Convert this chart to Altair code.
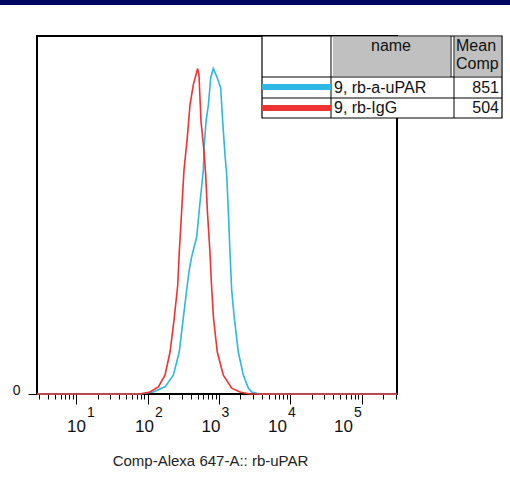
import altair as alt
import pandas as pd

FONT = "Liberation Sans"

# ---------------- data ----------------
series_names = ["9, rb-a-uPAR", "9, rb-IgG"]
series_means = ["851", "504"]
series_colors = ["#2db7e4", "#ee3333"]

red_x = [2.81, 78, 108, 141, 175, 206, 236, 264, 277, 300, 323, 359, 392, 436, 503,
         524, 560, 617, 651, 686, 748, 785, 837, 946, 1149, 1506, 1968, 2722, 312700]
red_y = [0, 0, 0.6, 2.2, 5.8, 12.9, 23.4, 33.5, 43.3, 56.5, 68.8, 78.7, 88.8, 95.0, 100,
         98.0, 83.7, 74.5, 67.3, 56.5, 43.3, 33.5, 23.4, 12.9, 5.8, 1.8, 0.6, 0, 0]

cyan_x = [2.81, 78, 120, 175, 229, 277, 316, 359, 383, 414, 487, 541, 603, 617, 658,
          709, 765, 832, 946, 1056, 1127, 1214, 1282, 1350, 1426, 1506, 1638, 1865,
          2193, 2576, 2871, 3758, 312700]
cyan_y = [0, 0, 0.6, 2.2, 5.8, 12.9, 23.4, 33.5, 38.1, 42.2, 48.3, 58.7, 68.8, 75.6, 83.7,
          88.8, 97.1, 100, 97.1, 94.0, 83.7, 73.4, 67.3, 56.5, 43.3, 32.0, 23.4, 12.9,
          5.8, 1.8, 0.6, 0, 0]

x_domain = [2.81, 312700]
y_domain = [0, 110]
major_ticks = [10, 100, 1000, 10000, 100000]
# where each decade label sits on the axis in the reference (left edge of "10")
label_at = [7.4, 66.4, 569, 4864, 40950]
major_base = ["10", "10", "10", "10", "10"]
major_exps = ["1", "2", "3", "4", "5"]
minor_ticks = [3, 4, 5, 6, 7, 8, 9,
               20, 30, 40, 50, 60, 70, 80, 90,
               200, 300, 400, 500, 600, 700, 800, 900,
               2000, 3000, 4000, 5000, 6000, 7000, 8000, 9000,
               20000, 30000, 40000, 50000, 60000, 70000, 80000, 90000,
               200000, 300000]
y_ticks = [0]
x_title = "Comp-Alexa 647-A:: rb-uPAR"

# ---------------- build ----------------
W, H = 360, 358

curves = pd.concat([
    pd.DataFrame({"x": cyan_x, "y": cyan_y, "series": series_names[0]}),
    pd.DataFrame({"x": red_x, "y": red_y, "series": series_names[1]}),
])

xscale = alt.Scale(type="log", domain=x_domain, nice=False)
yscale = alt.Scale(domain=y_domain, nice=False, zero=True)

major_test = "abs(log(datum.value)/LN10 - round(log(datum.value)/LN10)) < 0.01"

x_axis = alt.Axis(values=minor_ticks + major_ticks, labels=False, grid=False,
                  domain=False, tickColor="black", tickWidth=1,
                  tickSize={"condition": {"test": major_test, "value": 10}, "value": 5},
                  title=x_title, titleFont=FONT, titleFontSize=15,
                  titleFontWeight="normal", titleColor="#222",
                  titleX=173, titleY=71, titleBaseline="alphabetic")
x_enc = alt.X("x:Q", scale=xscale, axis=x_axis)

lines = alt.Chart(curves).mark_line(strokeWidth=1.6).encode(
    x=x_enc,
    y=alt.Y("y:Q", scale=yscale,
            axis=alt.Axis(values=y_ticks, title=None, grid=False, domain=False,
                          tickSize=9, tickColor="black", labelPadding=8,
                          labelFont=FONT, labelFontSize=14, labelColor="#111",
                          labelBaseline="alphabetic")),
    color=alt.Color("series:N", scale=alt.Scale(domain=series_names, range=series_colors),
                    legend=None),
)

labels_df = pd.DataFrame({"x": label_at, "base": major_base, "exp": major_exps})
tens = alt.Chart(labels_df).mark_text(align="left", baseline="alphabetic",
                                      font=FONT, fontSize=17, color="#111").encode(
    x=x_enc, y=alt.value(396), text="base:N")
exps = alt.Chart(labels_df).mark_text(align="left", baseline="alphabetic", dx=20,
                                      font=FONT, fontSize=14, color="#111").encode(
    x=x_enc, y=alt.value(381), text="exp:N")

one = pd.DataFrame({"a": [0]})


def rect(x, x2, y, y2, fill, stroke=None, sw=0):
    kw = dict(fill=fill, strokeWidth=sw)
    if stroke:
        kw["stroke"] = stroke
    return alt.Chart(one).mark_rect(**kw).encode(
        x=alt.value(x), x2=alt.value(x2), y=alt.value(y), y2=alt.value(y2))


def vline(x, y, y2, color="black", sw=1):
    return alt.Chart(one).mark_rule(color=color, strokeWidth=sw).encode(
        x=alt.value(x), y=alt.value(y), y2=alt.value(y2))


def hline(x, x2, y, color="black", sw=1):
    return alt.Chart(one).mark_rule(color=color, strokeWidth=sw).encode(
        x=alt.value(x), x2=alt.value(x2), y=alt.value(y))


def label(txt, x, y, align="left", size=16):
    return alt.Chart(one).mark_text(align=align, baseline="middle", font=FONT,
                                    fontSize=size, color="#111").encode(
        x=alt.value(x), y=alt.value(y), text=alt.value(txt))


# banner (top navy band)
banner = rect(-37, 473, -36, -31, "#000560")

# legend table (positions relative to plot origin)
TL, TR, TT, TB = 225, 465, 0, 82
table = [
    rect(TL, TR, TT, TB, "white", "black", 1.2),
    rect(296, 413, 1, 40, "#c0c0c0"),
    rect(418, TR - 1, 1, 40, "#c0c0c0"),
    vline(294, TT, TB),
    vline(414, TT, 41),
    vline(417, TT, TB),
    hline(TL, TR, 41),
    hline(TL, TR, 62),
    hline(TL, 294, 51, series_colors[0], 6),
    hline(TL, 294, 72, series_colors[1], 6),
    label("name", 354, 10, "center"),
    label("Mean", 419, 10),
    label("Comp", 419, 28),
    label(series_names[0], 297, 52),
    label(series_names[1], 297, 72),
    label(series_means[0], TR - 3, 52, "right"),
    label(series_means[1], TR - 3, 72, "right"),
]

chart = alt.layer(lines, tens, exps, banner, *table).properties(
    width=W, height=H,
    autosize=alt.AutoSizeParams(type="none"),
    padding={"left": 37, "top": 36, "right": 113, "bottom": 83},
).configure(background="white").configure_view(stroke="black", strokeWidth=2)

chart.save("out.html", embed_options={"renderer": "svg", "actions": False})
